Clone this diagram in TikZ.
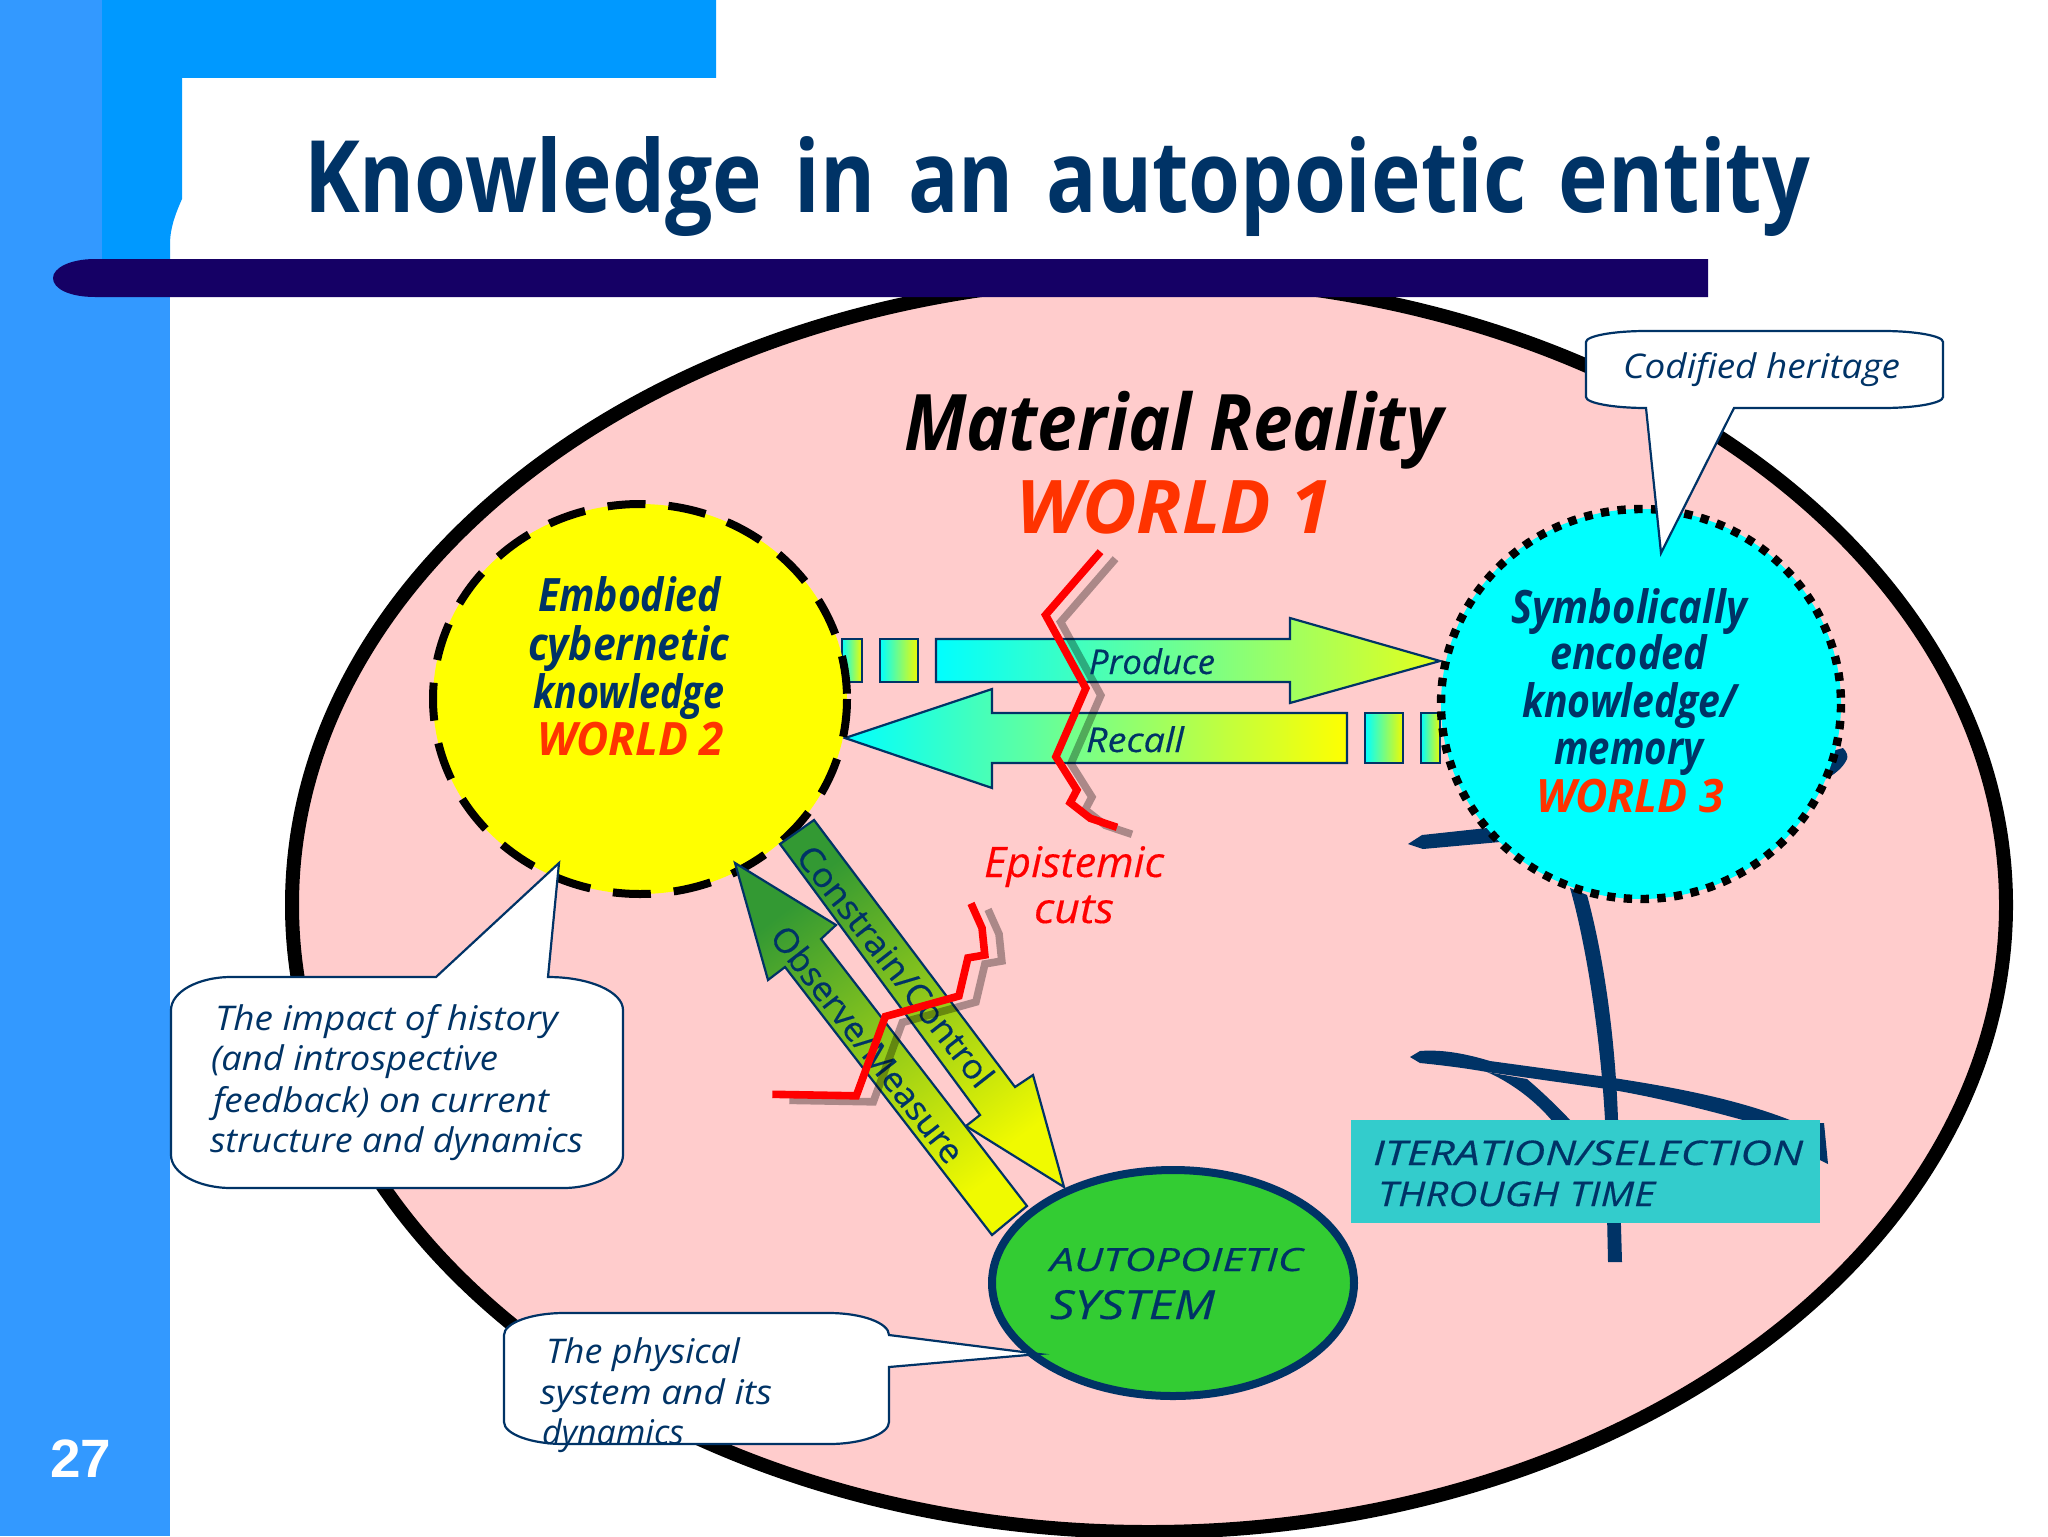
\documentclass[tikz,border=0pt]{standalone}
\usepackage{fontspec}
\usepackage{graphicx}
\setmainfont{Open Sans}
\newfontfamily\titlefont[WordSpace=1.5]{Open Sans}
\newfontfamily\labelfont[FakeBold=0.35]{Open Sans}
\newfontfamily\numfont{Liberation Sans}
\definecolor{dkblue}{HTML}{003366}
\definecolor{lightbar}{HTML}{3399FF}
\definecolor{brightbar}{HTML}{0099FF}
\definecolor{rulebar}{HTML}{150065}
\definecolor{pinkfill}{HTML}{FFCCCC}
\definecolor{worldred}{HTML}{FF3300}
\definecolor{tealbox}{HTML}{33CCCC}
\definecolor{greenfill}{HTML}{33CC33}
\definecolor{arrowgreen}{HTML}{339933}
\definecolor{arrowyellow}{HTML}{F0FA00}
\definecolor{tipyellow}{HTML}{E4FF1C}
\definecolor{purecyan}{HTML}{00FFFF}
\definecolor{pureyellow}{HTML}{FFFF00}
\definecolor{purered}{HTML}{FF0000}
\newcommand\fs[1]{\fontsize{#1}{#1}\selectfont}
% name, x,y, width in px, font, text
\newcommand\lbl[5]{\node[txt] (#1) at (#2) {\resizebox{\dimexpr#3pt/2\relax}{\height}{#4#5}};}
\newcommand\rlbl[6]{\node[inner sep=0pt,outer sep=0pt,rotate=#6] (#1) at (#2) {\resizebox{\dimexpr#3pt/2\relax}{\height}{#4#5}};}
\tikzset{
  txt/.style={anchor=base west,inner sep=0pt,outer sep=0pt},
  horiz/.style={draw=dkblue,line width=1.1pt},
  diag/.style={draw=dkblue,line width=1.1pt,shading=axis,top color=arrowgreen,bottom color=arrowyellow,shading angle=37},
  callout/.style={draw=dkblue,line width=1.1pt,fill=white,line join=miter},
  cutline/.style={draw=purered,line width=3.8pt,line join=miter},
  cutshadow/.style={draw=black,opacity=.33,line width=3.8pt,line join=miter},
  inkcurve/.style={fill=dkblue,draw=none},
}
\begin{document}
\begin{tikzpicture}[x=0.5pt,y=-0.5pt]
\useasboundingbox (0,0) rectangle (2048,1536);
\fill[white] (0,0) rectangle (2048,1536);
% side bars
\fill[lightbar] (0,0) rectangle (170,1536);
\fill[brightbar] (102,0) -- (716,0) -- (716,78) -- (182,78) -- (182,199) .. controls (175,215) and (170,228) .. (170,245) -- (170,259) -- (102,259) -- cycle;
% world 1 ellipse
\path[draw=black,fill=pinkfill,line width=7pt] (1149,905) ellipse [x radius=857,y radius=627];
% title rule
\fill[rulebar] (95,259) .. controls (70,259) and (53,268) .. (53,278) .. controls (53,289) and (70,297) .. (95,297) -- (1708,297) -- (1708,259) -- cycle;
% ink curves
\fill[inkcurve] (1570,888) .. controls (1585,940) and (1600,1030) .. (1605,1120) -- (1608,1262) -- (1622,1262) -- (1618,1120) .. controls (1615,1030) and (1602,950) .. (1587,895) -- cycle;
\fill[inkcurve] (1410,1057) -- (1420,1051) .. controls (1445,1049) and (1470,1055) .. (1490,1061) -- (1607,1077) .. controls (1680,1088) and (1740,1100) .. (1795,1122) -- (1750,1122) .. controls (1700,1108) and (1650,1096) .. (1607,1089) -- (1487,1072) .. controls (1465,1068) and (1440,1065) .. (1420,1063) -- cycle;
\fill[inkcurve] (1487,1072) .. controls (1510,1082) and (1535,1100) .. (1553,1122) -- (1572,1122) .. controls (1555,1104) and (1540,1090) .. (1527,1079) -- cycle;
\fill[inkcurve] (1820,1123) -- (1824,1123) -- (1828,1164) -- (1820,1160) -- cycle;
\fill[inkcurve] (1408,844) -- (1422,835) -- (1487,828) -- (1560,825) -- (1560,840) -- (1500,842) -- (1423,849) -- cycle;
\fill[inkcurve] (1800,760) -- (1843,748) .. controls (1847,752) and (1848,756) .. (1847,759) .. controls (1843,768) and (1833,776) .. (1823,780) -- cycle;
% teal box
\fill[tealbox] (1351,1120) rectangle (1820,1223);
% produce arrow
\path[horiz,left color=purecyan,right color=arrowyellow] (842,639) rectangle (862,682);
\path[horiz,left color=purecyan,right color=arrowyellow] (880,639) rectangle (918,682);
\path[horiz,left color=purecyan,right color=tipyellow] (936,639) -- (1290,639) -- (1290,618) -- (1440,661) -- (1290,703) -- (1290,682) -- (936,682) -- cycle;
% recall arrow
\path[horiz,left color=purecyan,right color=pureyellow] (845,738) -- (992,689) -- (992,713) -- (1347,713) -- (1347,763) -- (992,763) -- (992,788) -- cycle;
\path[horiz,left color=purecyan,right color=arrowyellow] (1365,713) rectangle (1403,763);
\path[horiz,left color=purecyan,right color=arrowyellow] (1421,713) rectangle (1440,763);
% knowledge circles
\path[draw=black,fill=pureyellow,line width=4pt,dash pattern=on 19pt off 11.5pt] (640,699) ellipse [x radius=207,y radius=195];
\path[draw=black,fill=purecyan,line width=4.2pt,dash pattern=on 4.2pt off 4.2pt] (1641,704) ellipse [x radius=200,y radius=195];
% diagonal arrows
\path[diag] (780,844) -- (814,820) -- (1015,1087) -- (1033,1075) -- (1064,1187) -- (966,1126) -- (980,1115) -- cycle;
\path[diag] (735,863) -- (836,925) -- (821,939) -- (1027,1206) -- (992,1235) -- (785,967) -- (768,980) -- cycle;
\rlbl{constrain}{896,966}{296}{\labelfont\color{dkblue}\fs{17}}{Constrain/Control}{-52}
\rlbl{observe}{868,1044}{290}{\labelfont\color{dkblue}\fs{17}}{Observe/Measure}{-52}
% autopoietic system
\path[draw=dkblue,fill=greenfill,line width=4pt] (1173,1283) ellipse [x radius=181,y radius=113];
% epistemic cuts
\draw[cutshadow] (1115.5,558.7) -- (1060.6,622) -- (1100.8,695.3) -- (1070.9,763.7) -- (1091.9,797) -- (1085.2,809.7) -- (1105.3,825.3) -- (1132,834.3);
\draw[cutline] (1100.5,551.7) -- (1045.6,615) -- (1085.8,688.3) -- (1055.9,756.7) -- (1076.9,790) -- (1070.2,802.7) -- (1090.3,818.3) -- (1117,827.3);
\draw[cutshadow] (988,909.4) -- (999,934) -- (1001.8,961) -- (984.9,963.9) -- (975.9,1002) -- (902.3,1022.5) -- (873.3,1101.8) -- (789.3,1100.3);
\draw[cutline] (971,903.4) -- (982,928) -- (984.8,955) -- (967.9,957.9) -- (958.9,996) -- (885.3,1016.5) -- (856.3,1095.8) -- (772.3,1094.3);
% callouts
\path[callout] (1646,408) -- (1661,553) -- (1734,408) -- (1883,408) .. controls (1916,408) and (1943,403) .. (1943,397) -- (1943,342) .. controls (1943,336) and (1916,331) .. (1883,331) -- (1646,331) .. controls (1613,331) and (1586,336) .. (1586,342) -- (1586,397) .. controls (1586,403) and (1613,408) .. (1646,408) -- cycle;
\path[callout] (436,977) -- (559,863) -- (548,977) .. controls (590,977) and (623,992) .. (623,1010) -- (623,1155) .. controls (623,1173) and (596,1188) .. (563,1188) -- (231,1188) .. controls (198,1188) and (171,1173) .. (171,1155) -- (171,1010) .. controls (171,992) and (198,977) .. (231,977) -- cycle;
\path[callout] (889,1335) -- (1039,1354) -- (889,1367) -- (889,1422) .. controls (889,1434) and (862,1444) .. (829,1444) -- (564,1444) .. controls (531,1444) and (504,1434) .. (504,1422) -- (504,1335) .. controls (504,1323) and (531,1313) .. (564,1313) -- (829,1313) .. controls (862,1313) and (889,1323) .. (889,1335) -- cycle;
% texts
\lbl{title}{304,212}{1506}{\titlefont\bfseries\color{dkblue}\fs{50}}{Knowledge in an autopoietic entity}
\lbl{material}{904,450}{539}{\bfseries\itshape\color{black}\fs{39}}{Material Reality}
\lbl{worldone}{1016,533}{316}{\bfseries\itshape\color{worldred}\fs{37}}{WORLD 1}
\lbl{emba}{538,611}{183}{\bfseries\itshape\color{dkblue}\fs{23}}{Embodied}
\lbl{embb}{528,660}{201}{\bfseries\itshape\color{dkblue}\fs{23}}{cybernetic}
\lbl{embc}{533,708}{191}{\bfseries\itshape\color{dkblue}\fs{23}}{knowledge}
\lbl{worldtwo}{537,755}{187}{\bfseries\itshape\color{worldred}\fs{23}}{WORLD 2}
\lbl{syma}{1511,623}{236}{\bfseries\itshape\color{dkblue}\fs{23}}{Symbolically}
\lbl{symb}{1550,669}{157}{\bfseries\itshape\color{dkblue}\fs{23}}{encoded}
\lbl{symc}{1522,717}{215}{\bfseries\itshape\color{dkblue}\fs{23}}{knowledge/}
\lbl{symd}{1554,764}{149}{\bfseries\itshape\color{dkblue}\fs{23}}{memory}
\lbl{worldthree}{1536,812}{188}{\bfseries\itshape\color{worldred}\fs{23}}{WORLD 3}
\lbl{produce}{1089,674}{126}{\labelfont\itshape\color{dkblue}\fs{17}}{Produce}
\lbl{recall}{1086,752}{98}{\labelfont\itshape\color{dkblue}\fs{17}}{Recall}
\lbl{episa}{984,877}{180}{\labelfont\itshape\color{purered}\fs{21}}{Epistemic}
\lbl{episb}{1034,923}{80}{\labelfont\itshape\color{purered}\fs{21}}{cuts}
\lbl{autoa}{1050,1271}{253}{\labelfont\itshape\color{dkblue}\fs{16}}{AUTOPOIETIC}
\lbl{autob}{1050,1319}{165}{\labelfont\itshape\color{dkblue}\fs{20}}{SYSTEM}
\lbl{itera}{1373,1165}{430}{\labelfont\itshape\color{dkblue}\fs{17}}{ITERATION/SELECTION}
\lbl{iterb}{1378,1206}{277}{\labelfont\itshape\color{dkblue}\fs{17}}{THROUGH TIME}
\lbl{coda}{1623,378}{277}{\itshape\color{dkblue}\fs{17}}{Codified heritage}
\lbl{impa}{215,1030}{343}{\itshape\color{dkblue}\fs{17}}{The impact of history}
\lbl{impb}{211,1070}{287}{\itshape\color{dkblue}\fs{17}}{(and introspective}
\lbl{impc}{213,1112}{336}{\itshape\color{dkblue}\fs{17}}{feedback) on current}
\lbl{impd}{210,1152}{373}{\itshape\color{dkblue}\fs{17}}{structure and dynamics}
\lbl{phya}{546,1363}{194}{\itshape\color{dkblue}\fs{17}}{The physical}
\lbl{phyb}{540,1404}{232}{\itshape\color{dkblue}\fs{17}}{system and its}
\lbl{phyc}{542,1444}{142}{\itshape\color{dkblue}\fs{17}}{dynamics}
\lbl{page}{50,1477}{61}{\numfont\bfseries\color{white}\fs{27}}{27}
\end{tikzpicture}
\end{document}
